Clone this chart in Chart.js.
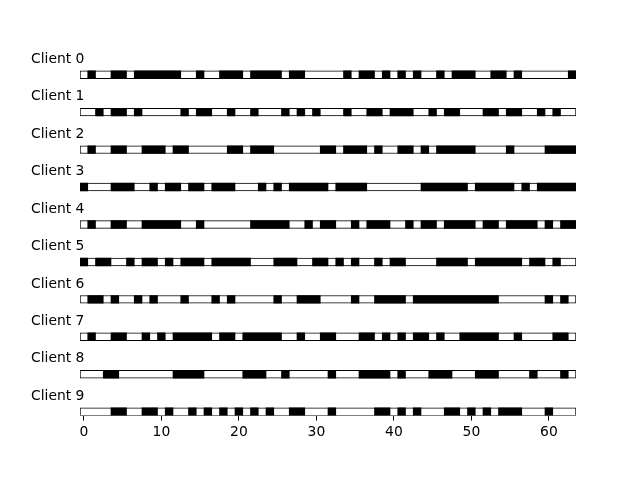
<!DOCTYPE html>
<html>
<head>
<meta charset="utf-8">
<script src="https://cdn.jsdelivr.net/npm/chart.js@4/dist/chart.umd.min.js"></script>
<style>
  html, body { margin: 0; padding: 0; background: #fff; }
  #wrap { width: 640px; height: 480px; position: relative; }
</style>
</head>
<body>
<div id="wrap"><canvas id="c" width="640" height="480"></canvas></div>
<script>
// ---- data (1 = black cell, 0 = white cell), columns 0..63 ----
const clientLabels = ["Client 0","Client 1","Client 2","Client 3","Client 4","Client 5","Client 6","Client 7","Client 8","Client 9"];
const client0 = [0,1,0,0,1,1,0,1, 1,1,1,1,1,0,0,1, 0,0,1,1,1,0,1,1, 1,1,0,1,1,0,0,0, 0,0,1,0,1,1,0,1, 0,1,0,1,0,0,1,0, 1,1,1,0,0,1,1,0, 1,0,0,0,0,0,0,1];
const client1 = [0,0,1,0,1,1,0,1, 0,0,0,0,0,1,0,1, 1,0,0,1,0,0,1,0, 0,0,1,0,1,0,1,0, 0,0,1,0,0,1,1,0, 1,1,1,0,0,1,0,1, 1,0,0,0,1,1,0,1, 1,0,0,1,0,1,0,0];
const client2 = [0,1,0,0,1,1,0,0, 1,1,1,0,1,1,0,0, 0,0,0,1,1,0,1,1, 1,0,0,0,0,0,0,1, 1,0,1,1,1,0,1,0, 0,1,1,0,1,0,1,1, 1,1,1,0,0,0,0,1, 0,0,0,0,1,1,1,1];
const client3 = [1,0,0,0,1,1,1,0, 0,1,0,1,1,0,1,1, 0,1,1,1,0,0,0,1, 0,1,0,1,1,1,1,1, 0,1,1,1,1,0,0,0, 0,0,0,0,1,1,1,1, 1,1,0,1,1,1,1,1, 0,1,0,1,1,1,1,1];
const client4 = [0,1,0,0,1,1,0,0, 1,1,1,1,1,0,0,1, 0,0,0,0,0,0,1,1, 1,1,1,0,0,1,0,1, 1,0,0,1,0,1,1,1, 0,0,1,0,1,1,0,1, 1,1,1,0,1,1,0,1, 1,1,1,0,1,0,1,1];
const client5 = [1,0,1,1,0,0,1,0, 1,1,0,1,0,1,1,1, 0,1,1,1,1,1,0,0, 0,1,1,1,0,0,1,1, 0,1,0,1,0,0,1,0, 1,1,0,0,0,0,1,1, 1,1,0,1,1,1,1,1, 1,0,1,1,0,1,0,0];
const client6 = [0,1,1,0,1,0,0,1, 0,1,0,0,0,1,0,0, 0,1,0,1,0,0,0,0, 0,1,0,0,1,1,1,0, 0,0,0,1,0,0,1,1, 1,1,0,1,1,1,1,1, 1,1,1,1,1,1,0,0, 0,0,0,0,1,0,1,0];
const client7 = [0,1,0,0,1,1,0,0, 1,0,1,0,1,1,1,1, 1,0,1,1,0,1,1,1, 1,1,0,0,1,0,0,1, 1,0,0,0,1,1,0,1, 0,1,0,1,1,0,1,0, 0,1,1,1,1,1,0,0, 1,0,0,0,0,1,1,0];
const client8 = [0,0,0,1,1,0,0,0, 0,0,0,0,1,1,1,1, 0,0,0,0,0,1,1,1, 0,0,1,0,0,0,0,0, 1,0,0,0,1,1,1,1, 0,1,0,0,0,1,1,1, 0,0,0,1,1,1,0,0, 0,0,1,0,0,0,1,0];
const client9 = [0,0,0,0,1,1,0,0, 1,1,0,1,0,0,1,0, 1,0,1,0,1,0,1,0, 1,0,0,1,1,0,0,0, 1,0,0,0,0,0,1,1, 0,1,0,1,0,0,0,1, 1,0,1,0,1,0,1,1, 1,0,0,0,1,0,0,0];
const xTickValues = [0, 10, 20, 30, 40, 50, 60];

const rows = [client0, client1, client2, client3, client4, client5, client6, client7, client8, client9];
const nCols = client0.length;

// black runs built from the arrays
const blackBars = [];
rows.forEach((row, r) => {
  let k = 0;
  while (k < row.length) {
    if (row[k] === 1) {
      let e = k;
      while (e + 1 < row.length && row[e + 1] === 1) e++;
      blackBars.push({ x: [k - 0.5, e + 0.5], y: r });
      k = e + 1;
    } else k++;
  }
});
const frames = rows.map((row, r) => ({ x: [-0.5, row.length - 0.5], y: r }));

const FONT = "'DejaVu Sans', sans-serif";
const CELL = 496 / nCols;
const PLOT_BOTTOM = 415.6;

const labelPlugin = {
  id: 'rowLabels',
  afterDatasetsDraw(chart) {
    const ctx = chart.ctx, ys = chart.scales.y;
    ctx.save();
    ctx.fillStyle = '#000';
    ctx.font = "13.89px " + FONT;
    ctx.textAlign = 'left';
    ctx.textBaseline = 'alphabetic';
    clientLabels.forEach((lab, r) => {
      ctx.fillText(lab, 31, ys.getPixelForValue(r) - 11.8);
    });
    ctx.restore();
  }
};

new Chart(document.getElementById('c'), {
  type: 'bar',
  data: {
    datasets: [
      {
        data: blackBars,
        backgroundColor: '#000',
        borderWidth: 0,
        barThickness: CELL,
        grouped: false,
        order: 0
      },
      {
        data: frames,
        backgroundColor: '#fff',
        borderColor: '#000',
        borderWidth: 1,
        borderSkipped: false,
        barThickness: CELL,
        grouped: false,
        order: 1
      }
    ]
  },
  options: {
    responsive: false,
    animation: false,
    devicePixelRatio: 1,
    indexAxis: 'y',
    layout: { padding: { left: 80, right: 64, top: 40, bottom: 0 } },
    plugins: { legend: { display: false }, tooltip: { enabled: false }, title: { display: false } },
    scales: {
      x: {
        type: 'linear',
        min: -0.5,
        max: nCols - 0.5,
        afterBuildTicks(scale) { scale.ticks = xTickValues.map(v => ({ value: v })); },
        afterFit(scale) { scale.height = 480 - PLOT_BOTTOM; },
        grid: { display: true, drawOnChartArea: false, drawTicks: true, tickLength: 5, color: '#000', tickWidth: 1 },
        border: { display: false },
        ticks: { color: '#000', font: { family: FONT, size: 13.89 }, padding: 3, maxRotation: 0, autoSkip: false }
      },
      y: {
        type: 'linear',
        reverse: true,
        display: false,
        offset: false,
        min: -0.9268,
        max: 9.1042
      }
    }
  },
  plugins: [labelPlugin]
});
</script>
</body>
</html>
